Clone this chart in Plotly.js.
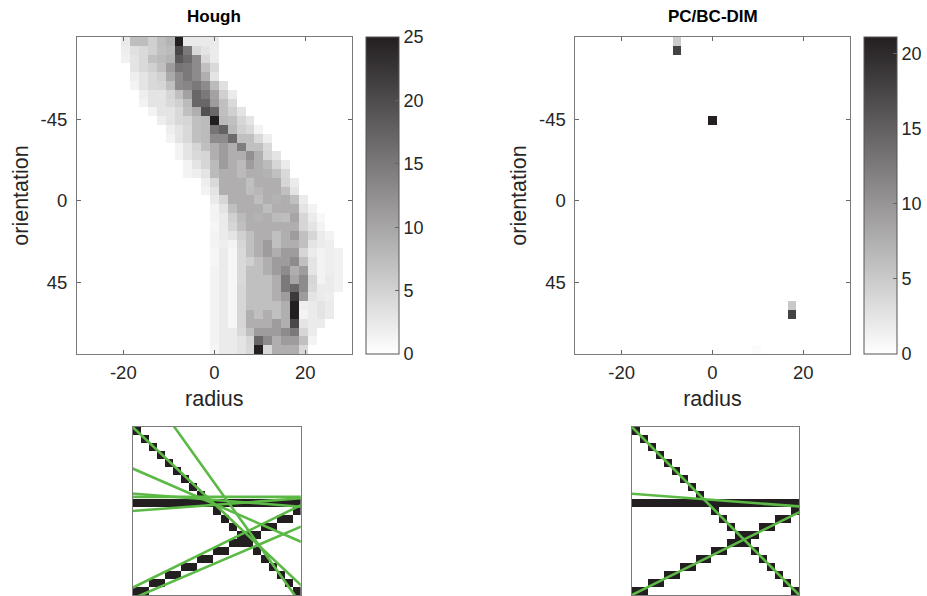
<!DOCTYPE html>
<html>
<head>
<meta charset="utf-8">
<script src="https://cdn.plot.ly/plotly-3.0.1.min.js"></script>
<style>html,body{margin:0;padding:0;background:#fff;}#chart{width:927px;height:596px;}</style>
</head>
<body>
<div id="chart"></div>
<script>
// ---------- DATA ----------
// radius bins (centres) and orientation bins (centres, degrees)
const radius = [-29.2,-27.25,-25.31,-23.36,-21.41,-19.47,-17.52,-15.57,-13.63,-11.68,-9.73,-7.79,-5.84,-3.89,-1.95,0,1.95,3.89,5.84,7.79,9.73,11.68,13.63,15.57,17.52,19.47,21.41,23.36,25.31,27.25,29.2];
const orientation = [-87.97,-83.1,-78.24,-73.38,-68.51,-63.65,-58.78,-53.92,-49.06,-44.19,-39.33,-34.46,-29.6,-24.74,-19.87,-15.01,-10.14,-5.28,-0.42,4.45,9.31,14.18,19.04,23.9,28.77,33.63,38.5,43.36,48.22,53.09,57.95,62.82,67.68,72.54,77.41,82.27];
const radiusTicks = [-20, 0, 20];
const radiusTickText = ['-20', '0', '20'];
const orientationTicks = [-45, 0, 45];
const orientationTickText = ['-45', '0', '45'];

// Hough accumulator: for each orientation row, index of first non-zero radius bin and its values
const houghFirstCol = [5,5,5,6,6,6,7,7,8,9,10,10,11,11,12,12,14,14,15,15,15,15,15,15,15,15,15,15,15,15,15,15,15,15,15,15];
const houghRowVals = [
 [2.3,7.3,7.3,5.3,7.3,8.4,25,2.3,2.3,2.3,2.3],
 [1.9,3.5,4.2,5.3,7,7.6,20.5,15,4.2,3,2.2],
 [1.6,3,4.2,7,7.6,8.4,18.5,16.5,13,4.2,2.2],
 [3,4.2,5.3,7,11,15.5,15,13,7,4.2],
 [1.9,3,4.2,5.3,9.5,13,15,13,9,3],
 [1.3,3,4.2,4.6,7,13,13.5,15,13,7.6,3.5],
 [1.9,3,3,4.6,7,10.5,17,15,10.5,5.3,2.2],
 [1.3,3,3,4.2,5.3,7.6,17,17,11,7,4.2],
 [1.3,3,3,4.2,7,9,19.5,17,7,5.3,3],
 [1.9,3,4.2,4.6,7,7.6,25,7.6,7,4.6,3],
 [1.9,3,4.2,7,7.6,15.5,17.5,7.6,5.3,4.2,1.3],
 [1.3,3,4.2,7,7.6,13,13,16.5,7,7,4.2,1.9],
 [1.3,3,4.6,7,9,11,9,14.5,7,7,4.2],
 [1.3,3,4.2,4.6,9,11,9,9,12.5,9,4.6,3],
 [1.3,3,4.6,7.6,11,9,7.6,11,9,7.6,4.6,2.2],
 [1.3,1.9,3,7.6,9,9,7.6,9,9,8.5,7,4.2],
 [1.9,4.2,9,9,9,7,9,9,9,4.6,2.2],
 [1.3,3,9,9,9,7.3,8,9,9,7,3],
 [2.3,4.6,9,9,9,7.3,9,8.5,9,7,2.2],
 [1.3,3,7,9,9,9,7.3,9,9,9,3,1.3],
 [1.3,2.2,5.3,7.6,9,8.5,9,7.6,7.3,10,4.6,2.2,0.8],
 [1,2.2,4.6,7,9,9,9,9,9,9,4.6,3,1.3],
 [1.3,2.2,3,5.3,7,9,9,7,9,11,7,4.6,2.2,1.3],
 [1.3,1.9,1.3,4.6,7,9,11,7,9,9,7,3,2.2,1.9],
 [1,2.2,1,4.2,7,9,11,9,11,11,4.6,2.2,1.3,1.9,1.6],
 [1,2.2,1,4.2,5.3,7,9,11,11,13,7,3,1.3,1.9,1.6],
 [1.3,2.2,1,4.2,7,7,9,11,13,9,11,3,1.3,1.9,1.6],
 [1.3,2.2,1,4.2,7,7,7,9,15,10,13,4.6,1.3,2.2,1.6],
 [1.3,2.2,1,4.6,7,7,7,9,15,17,13,4.2,2.2,2.2,1.6],
 [1.3,2.2,1,4.6,7,7,7,9,11,22,11,3,2.2,1.9],
 [1.3,2.2,1,4.6,7,7,7,7,9,25,1.9,2.2,3,2.2],
 [1.3,2.2,1,4.6,9,7,9,7,9,25,1.3,2.2,3,2.2],
 [1.3,2.2,1,4.6,9,9,9,11,9,20.5,3,2.2,2.2],
 [1.3,2.2,2.2,4.2,7,11,11,11,13,15,4.6,2.2],
 [1.3,2.2,2.2,3,4.6,17,13,9,11,11,7,1.3],
 [1,2.2,2.2,3,4.2,25,4.2,9,9,9,4.2]
];

// PC/BC-DIM response: the few non-zero cells (orientation row, radius column, value)
const pcbcRow = [0,1,9,30,31,35];
const pcbcCol = [11,11,15,24,24,20];
const pcbcVal = [4.8,17.8,21,5.2,17.8,0.3];

// binary input image (21 x 21): black pixel rows per column for each feature
const imgSize = 21;
const diagRows = [0,1,2,3,4,5,6,7,8,9,10,11,12,13,14,15,16,17,18,19,20];
const barRow = 9;
const ascRows = [20,20,19,19,18,18,17,17,16,16,15,15,14,14,13,13,12,12,11,11,10];

// detected lines (radius, orientation in degrees): Hough peaks and PC/BC-DIM peaks
const houghLineRho   = [0, 4.11, -4.51, -7.83, -8.23, 9.93, 17.35, 19.06];
const houghLineTheta = [-46.8, -35.6, -66.5, -85.5, -90, 85.7, 63.9, 66.9];
const pcbcLineRho    = [0, -7.86, 18.17];
const pcbcLineTheta  = [-45, -85.7, 63.8];

// colour-bar ticks
const houghTicks = [0,5,10,15,20,25];
const pcbcTicks = [0,5,10,15,20];

// ---------- BUILD ----------
const nR = orientation.length, nC = radius.length;
const houghZ = [];
for (let r = 0; r < nR; r++) {
  const row = new Array(nC).fill(0);
  houghRowVals[r].forEach((v, i) => { row[houghFirstCol[r] + i] = v; });
  houghZ.push(row);
}
const pcbcZ = [];
for (let r = 0; r < nR; r++) pcbcZ.push(new Array(nC).fill(0));
pcbcRow.forEach((r, i) => { pcbcZ[r][pcbcCol[i]] = pcbcVal[i]; });

const imgZ = [];
for (let r = 0; r < imgSize; r++) imgZ.push(new Array(imgSize).fill(0));
for (let c = 0; c < imgSize; c++) {
  imgZ[diagRows[c]][c] = 1;
  imgZ[barRow][c] = 1;
  imgZ[ascRows[c]][c] = 1;
}
const pix = [...Array(imgSize).keys()];

function lineTrace(rho, thetaDeg, xa, ya) {
  const t = thetaDeg * Math.PI / 180, c = Math.cos(t), s = Math.sin(t);
  let xs, ys;
  if (Math.abs(s) > 1e-6) {
    xs = [-5, imgSize + 4];
    ys = xs.map(x => (rho - x * c) / s);
  } else {
    ys = [-5, imgSize + 4];
    xs = ys.map(() => rho / c);
  }
  return {type: 'scatter', mode: 'lines', x: xs, y: ys, xaxis: xa, yaxis: ya,
          line: {color: '#5cb946', width: 2.6}, hoverinfo: 'skip', showlegend: false};
}

const grey = [[0, '#ffffff'], [1, '#231f20']];
const font = 'Liberation Sans, Arial, Helvetica, sans-serif';
const txt = '#262626';

function cb(x, ticks) {
  return {x: x, xanchor: 'left', xpad: 0, ypad: 0, y: 1 - 354/596, yanchor: 'bottom',
          len: 317/596, lenmode: 'fraction', thickness: 33, thicknessmode: 'pixels',
          outlinecolor: '#555', outlinewidth: 1, tickvals: ticks, ticks: 'inside', ticklen: 4,
          tickcolor: '#666', tickfont: {family: font, size: 18, color: txt}};
}

const traces = [
  {type: 'heatmap', x: radius, y: orientation, z: houghZ, colorscale: grey, zmin: 0, zmax: 25,
   xaxis: 'x', yaxis: 'y', colorbar: cb(367/927, houghTicks), hoverinfo: 'skip'},
  {type: 'heatmap', x: radius, y: orientation, z: pcbcZ, colorscale: grey, zmin: 0, zmax: 21.1,
   xaxis: 'x2', yaxis: 'y2', colorbar: cb(867/927, pcbcTicks), hoverinfo: 'skip'},
  {type: 'heatmap', x: pix, y: pix, z: imgZ, colorscale: grey, zmin: 0, zmax: 1, showscale: false,
   xaxis: 'x3', yaxis: 'y3', hoverinfo: 'skip'},
  {type: 'heatmap', x: pix, y: pix, z: imgZ, colorscale: grey, zmin: 0, zmax: 1, showscale: false,
   xaxis: 'x4', yaxis: 'y4', hoverinfo: 'skip'}
];
houghLineRho.forEach((r, i) => traces.push(lineTrace(r, houghLineTheta[i], 'x3', 'y3')));
pcbcLineRho.forEach((r, i) => traces.push(lineTrace(r, pcbcLineTheta[i], 'x4', 'y4')));

const topY = [1 - 354/596, 1 - 37/596];
function radAx(dom) {
  return {domain: dom, range: [-30.17, 30.17], tickvals: radiusTicks, ticktext: radiusTickText,
          ticks: 'inside', ticklen: 4, ticklabelstandoff: 2,
          tickcolor: '#666', showline: true, linecolor: '#7a7a7a', linewidth: 1, mirror: 'ticks',
          showgrid: false, zeroline: false, tickfont: {family: font, size: 18.5, color: txt},
          title: {text: 'radius', font: {family: font, size: 21.5, color: txt}, standoff: 8}};
}
function oriAx(anchor) {
  return {domain: topY, range: [84.7, -90.4], tickvals: orientationTicks, ticktext: orientationTickText,
          ticks: 'inside', ticklen: 4, ticklabelstandoff: 5,
          tickcolor: '#666', showline: true, linecolor: '#7a7a7a', linewidth: 1, mirror: 'ticks',
          showgrid: false, zeroline: false, anchor: anchor, tickfont: {family: font, size: 18.5, color: txt},
          title: {text: 'orientation', font: {family: font, size: 21.5, color: txt}, standoff: 6}};
}
function imgAx(dom, rev, anchor) {
  return {domain: dom, range: rev ? [imgSize - 0.5, -0.5] : [-0.5, imgSize - 0.5], showticklabels: false,
          ticks: '', showgrid: false, zeroline: false, showline: true, mirror: true,
          linecolor: '#7a7a7a', linewidth: 1, anchor: anchor};
}

const layout = {
  width: 927, height: 596, margin: {l: 0, r: 0, t: 0, b: 0},
  paper_bgcolor: '#fff', plot_bgcolor: '#fff', showlegend: false,
  font: {family: font, color: txt},
  xaxis: Object.assign(radAx([77.3/927, 352.7/927]), {anchor: 'y'}),
  yaxis: oriAx('x'),
  xaxis2: Object.assign(radAx([577.3/927, 852.3/927]), {anchor: 'y2'}),
  yaxis2: oriAx('x2'),
  xaxis3: imgAx([133.3/927, 301.7/927], false, 'y3'),
  yaxis3: imgAx([1 - 595/596, 1 - 427/596], true, 'x3'),
  xaxis4: imgAx([634/927, 801.7/927], false, 'y4'),
  yaxis4: imgAx([1 - 595/596, 1 - 427/596], true, 'x4'),
  annotations: [
    {text: '<b>Hough</b>', x: 215/927, y: 1 - 17/596, xref: 'paper', yref: 'paper', showarrow: false,
     xanchor: 'center', yanchor: 'middle', font: {family: font, size: 17, color: '#000'}},
    {text: '<b>PC/BC-DIM</b>', x: 715/927, y: 1 - 17/596, xref: 'paper', yref: 'paper', showarrow: false,
     xanchor: 'center', yanchor: 'middle', font: {family: font, size: 17, color: '#000'}}
  ]
};

Plotly.newPlot('chart', traces, layout, {staticPlot: true, displayModeBar: false});
</script>
</body>
</html>
